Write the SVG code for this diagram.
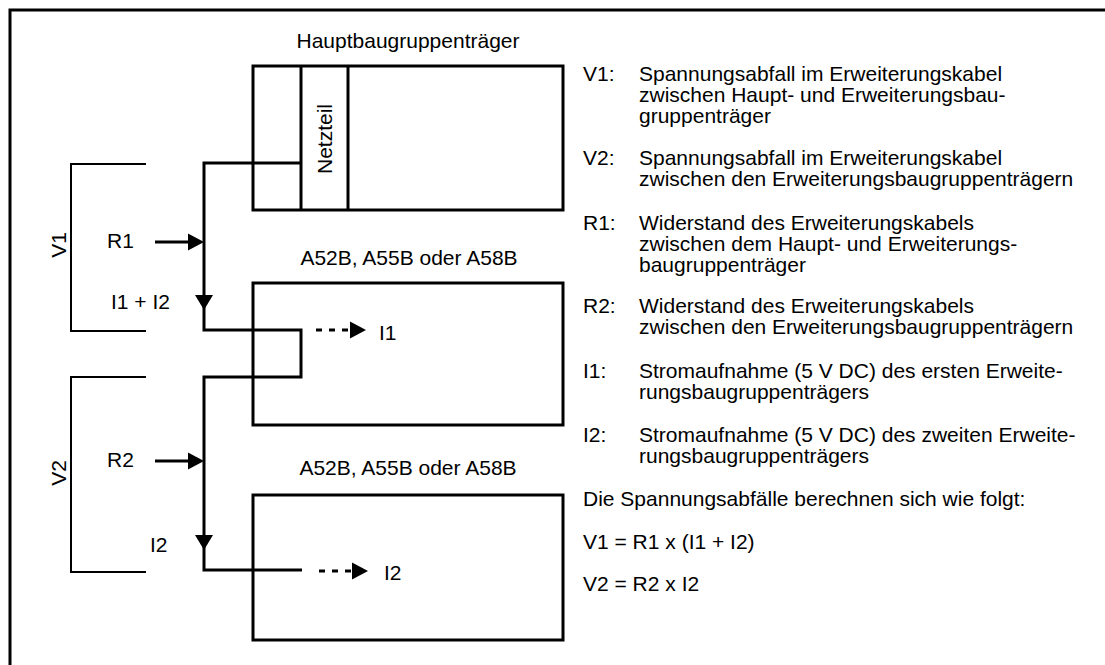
<svg xmlns="http://www.w3.org/2000/svg" xmlns:xlink="http://www.w3.org/1999/xlink" width="1105" height="665" viewBox="0 0 1105 665">
<style>
text{font-family:"Liberation Sans",Arial,sans-serif;font-size:21px;fill:#000}
.mid{text-anchor:middle}
.box{fill:none;stroke:#000;stroke-width:3}
.wire{fill:none;stroke:#000;stroke-width:3}
.thin{fill:none;stroke:#000;stroke-width:2}
.dash{fill:none;stroke:#000;stroke-width:3;stroke-dasharray:6 7}
</style>
<defs>
<path id="arrR" d="M0,0 L-16,-8.5 L-16,8.5 Z" fill="#000"/>
<path id="arrD" d="M0,0 L-9,-15 L9,-15 Z" fill="#000"/>
</defs>
<rect width="1105" height="665" fill="#fff"/>
<path class="box" d="M10,665 V10 H1105"/>
<g id="main">
<rect class="box" x="253" y="66" width="310" height="144"/>
<line class="box" x1="301" y1="66" x2="301" y2="210"/>
<line class="box" x1="348" y1="66" x2="348" y2="210"/>
<text class="mid" x="408" y="48">Hauptbaugruppenträger</text>
<text class="mid" transform="translate(332,139) rotate(-90)">Netzteil</text>
</g>
<g id="ext1">
<rect class="box" x="253" y="283" width="310" height="142"/>
<text class="mid" x="409" y="265">A52B, A55B oder A58B</text>
</g>
<g id="ext2">
<rect class="box" x="253" y="495" width="310" height="145"/>
<text class="mid" x="408" y="475">A52B, A55B oder A58B</text>
</g>
<g id="connectors">
<path class="wire" d="M301,163 H204 V330 H301 V377 H204 V570 H302"/>
<path class="thin" d="M146,164 H71 V331 H146"/>
<path class="thin" d="M146,377 H71 V572 H146"/>
<line class="wire" x1="155" y1="242" x2="190" y2="242"/>
<use xlink:href="#arrR" x="204" y="242"/>
<line class="wire" x1="155" y1="461" x2="190" y2="461"/>
<use xlink:href="#arrR" x="204" y="461"/>
<use xlink:href="#arrD" x="204" y="310"/>
<use xlink:href="#arrD" x="204" y="550"/>
<line class="dash" x1="316" y1="330" x2="350" y2="330"/>
<use xlink:href="#arrR" x="366" y="330"/>
<line class="dash" x1="319" y1="571" x2="354" y2="571"/>
<use xlink:href="#arrR" x="368" y="571"/>
</g>
<g id="labels">
<text transform="translate(66,245) rotate(-90)" class="mid">V1</text>
<text transform="translate(66,473) rotate(-90)" class="mid">V2</text>
<text x="107" y="248">R1</text>
<text x="111" y="309">I1 + I2</text>
<text x="107" y="467">R2</text>
<text x="150" y="552">I2</text>
<text x="379" y="340">I1</text>
<text x="384" y="580">I2</text>
</g>
<g id="legend">
<text x="583" y="81">V1:</text>
<text x="639" y="81">Spannungsabfall im Erweiterungskabel</text>
<text x="639" y="102">zwischen Haupt- und Erweiterungsbau-</text>
<text x="639" y="123">gruppenträger</text>
<text x="583" y="165">V2:</text>
<text x="639" y="165">Spannungsabfall im Erweiterungskabel</text>
<text x="639" y="186">zwischen den Erweiterungsbaugruppenträgern</text>
<text x="583" y="230">R1:</text>
<text x="639" y="230">Widerstand des Erweiterungskabels</text>
<text x="639" y="251">zwischen dem Haupt- und Erweiterungs-</text>
<text x="639" y="272">baugruppenträger</text>
<text x="583" y="313">R2:</text>
<text x="639" y="313">Widerstand des Erweiterungskabels</text>
<text x="639" y="334">zwischen den Erweiterungsbaugruppenträgern</text>
<text x="583" y="378">I1:</text>
<text x="639" y="378">Stromaufnahme (5 V DC) des ersten Erweite-</text>
<text x="639" y="399">rungsbaugruppenträgers</text>
<text x="583" y="442">I2:</text>
<text x="639" y="442">Stromaufnahme (5 V DC) des zweiten Erweite-</text>
<text x="639" y="463">rungsbaugruppenträgers</text>
<text x="583" y="506">Die Spannungsabfälle berechnen sich wie folgt:</text>
<text x="583" y="549">V1 = R1 x (I1 + I2)</text>
<text x="583" y="591">V2 = R2 x I2</text>
</g>
</svg>
